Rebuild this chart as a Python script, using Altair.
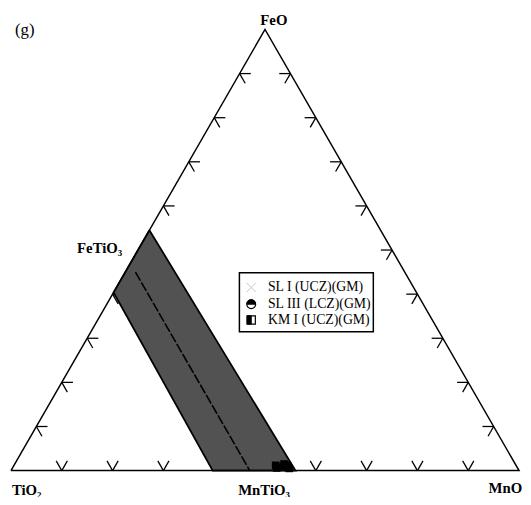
import altair as alt
import pandas as pd

# ---- data (ternary fractions: FeO, MnO; TiO2 = 1 - FeO - MnO) ----
vertex_labels = ["TiO₂", "MnO", "FeO"]
vertex_feo = [0.0, 0.0, 1.0]
vertex_mno = [0.0, 1.0, 0.0]

band_feo = [0.545, 0.0, 0.0, 0.404, 0.545]
band_mno = [0.0, 0.56, 0.397, 0.0, 0.0]

trend_feo = [0.45, 0.0]
trend_mno = [0.02, 0.47]

km_feo = [0.012, 0.008, 0.015, 0.010, 0.005, 0.012, 0.006]
km_mno = [0.515, 0.525, 0.530, 0.540, 0.545, 0.535, 0.520]

tick_fracs = [0.1, 0.2, 0.3, 0.4, 0.5, 0.6, 0.7, 0.8, 0.9]

mineral_labels = ["FeTiO₃", "MnTiO₃"]
mineral_feo = [0.5, 0.0]
mineral_mno = [0.0, 0.5]

legend_labels = ["SL I (UCZ)(GM)", "SL III (LCZ)(GM)", "KM I (UCZ)(GM)"]

# ---- helpers ----
SERIF = "Liberation Serif"
L = 0.022  # tick stub length (style)

XS = alt.Scale(domain=[-3 / 516, 520 / 516])
YS = alt.Scale(domain=[-23 / 448, 466 / 448])


def base(df):
    return alt.Chart(df).transform_calculate(
        x="datum.MnO + datum.FeO / 2", y="datum.FeO"
    )


def enc(**kw):
    return dict(
        x=alt.X("x:Q", scale=XS, axis=None),
        y=alt.Y("y:Q", scale=YS, axis=None),
        **kw,
    )


# triangle outline
tri = pd.DataFrame({
    "FeO": vertex_feo + [vertex_feo[0]],
    "MnO": vertex_mno + [vertex_mno[0]],
    "i": list(range(4)),
})
outline = base(tri).mark_line(color="black", strokeWidth=1.5, strokeJoin="miter").encode(
    **enc(order="i:Q")
)

# ticks
rows = []
sid = 0
for t in tick_fracs:
    # bottom edge (FeO=0, MnO=t): V
    for dm, df_ in [(0.0, L), (-L, L)]:
        rows += [dict(s=sid, i=0, FeO=0.0, MnO=t), dict(s=sid, i=1, FeO=df_, MnO=t + dm)]
        sid += 1
    # left edge (MnO=0, FeO=t): <
    for dm, df_ in [(L, 0.0), (L, -L)]:
        rows += [dict(s=sid, i=0, FeO=t, MnO=0.0), dict(s=sid, i=1, FeO=t + df_, MnO=dm)]
        sid += 1
    # right edge (TiO2=0, FeO=t): >
    for dm, df_ in [(-L, 0.0), (0.0, -L)]:
        rows += [dict(s=sid, i=0, FeO=t, MnO=1 - t), dict(s=sid, i=1, FeO=t + df_, MnO=1 - t + dm)]
        sid += 1
ticks = base(pd.DataFrame(rows)).mark_line(color="black", strokeWidth=1.3).encode(
    **enc(detail="s:N", order="i:Q")
)

# band
band_df = pd.DataFrame({"FeO": band_feo, "MnO": band_mno, "i": list(range(len(band_feo)))})
band = base(band_df).mark_line(
    fill="#525252", fillOpacity=1, stroke="black", strokeWidth=1.8, strokeJoin="miter"
).encode(**enc(order="i:Q"))

trend_df = pd.DataFrame({"FeO": trend_feo, "MnO": trend_mno, "i": [0, 1]})
trend = base(trend_df).mark_line(color="black", strokeWidth=1.6, strokeDash=[10, 2]).encode(
    **enc(order="i:Q")
)

# KM I points
km_df = pd.DataFrame({"FeO": km_feo, "MnO": km_mno})
km = base(km_df).mark_point(shape="square", filled=True, color="black", size=60, opacity=1).encode(**enc())

# vertex labels
vdf = pd.DataFrame({"FeO": vertex_feo, "MnO": vertex_mno, "label": vertex_labels})
vstyle = {
    "TiO₂": dict(align="center", dx=16, dy=20),
    "MnO": dict(align="left", dx=-31, dy=18),
    "FeO": dict(align="center", dx=9, dy=-10),
}
vlayers = []
for lab in vertex_labels:
    vlayers.append(
        base(vdf).transform_filter(alt.datum.label == lab).mark_text(
            font=SERIF, fontWeight="bold", fontSize=15, baseline="middle", **vstyle[lab]
        ).encode(**enc(text="label:N"))
    )

mdf = pd.DataFrame({"FeO": mineral_feo, "MnO": mineral_mno, "label": mineral_labels})
mstyle = {
    "FeTiO₃": dict(align="right", dx=-16, dy=-2),
    "MnTiO₃": dict(align="center", dx=-1, dy=20),
}
for lab in mineral_labels:
    vlayers.append(
        base(mdf).transform_filter(alt.datum.label == lab).mark_text(
            font=SERIF, fontWeight="bold", fontSize=15, baseline="middle", **mstyle[lab]
        ).encode(**enc(text="label:N"))
    )

# panel tag
tag = alt.Chart(pd.DataFrame({"t": ["(g)"]})).mark_text(
    font=SERIF, fontSize=17, baseline="middle", align="center"
).encode(x=alt.value(17), y=alt.value(19), text="t:N")

# legend (manual)
ldf = pd.DataFrame({"t": legend_labels})
lbox = alt.Chart(ldf.head(1)).mark_rect(fill="white", stroke="black", strokeWidth=1.5).encode(
    x=alt.value(235), x2=alt.value(371), y=alt.value(265), y2=alt.value(325)
)
row_y = [280, 297, 313]
sym_x = 247
txt_x = 264
leg_layers = [lbox]
for k, lab in enumerate(legend_labels):
    one = pd.DataFrame({"t": [lab]})
    leg_layers.append(
        alt.Chart(one).mark_text(font=SERIF, fontSize=14, align="left", baseline="middle").encode(
            x=alt.value(txt_x), y=alt.value(row_y[k]), text="t:N"
        )
    )
# symbol 1: light x
leg_layers.append(
    alt.Chart(ldf.head(1)).mark_point(
        shape="M-1,-1L1,1M-1,1L1,-1", stroke="#b0b0b0", strokeWidth=1, size=90, filled=False
    ).encode(x=alt.value(sym_x), y=alt.value(row_y[0]))
)
# symbol 2: half-filled circle
leg_layers.append(
    alt.Chart(ldf.head(1)).mark_point(
        shape="M-1,0A1,1,0,1,1,1,0A1,1,0,1,1,-1,0Z", fill="white", stroke="black",
        strokeWidth=1.2, size=80, filled=False, opacity=1
    ).encode(x=alt.value(sym_x), y=alt.value(row_y[1]))
)
leg_layers.append(
    alt.Chart(ldf.head(1)).mark_point(
        shape="M-1,0A1,1,0,0,1,1,0Z", fill="black", stroke="black", strokeWidth=1,
        size=80, filled=True, opacity=1
    ).encode(x=alt.value(sym_x), y=alt.value(row_y[1]))
)
# symbol 3: half-filled square
leg_layers.append(
    alt.Chart(ldf.head(1)).mark_point(
        shape="square", fill="white", stroke="black", strokeWidth=1.2, size=70, filled=False, opacity=1
    ).encode(x=alt.value(sym_x), y=alt.value(row_y[2]))
)
leg_layers.append(
    alt.Chart(ldf.head(1)).mark_point(
        shape="M-1,-1H0V1H-1Z", fill="black", stroke="black", strokeWidth=1, size=70,
        filled=True, opacity=1
    ).encode(x=alt.value(sym_x), y=alt.value(row_y[2]))
)

chart = alt.layer(
    ticks, band, trend, km, outline, *vlayers, tag, *leg_layers
).properties(
    width=523, height=489, autosize=alt.AutoSizeParams(type="none"), padding=0
).configure_view(stroke=None)

chart.save("out.html", embed_options={"renderer": "svg", "actions": False})
